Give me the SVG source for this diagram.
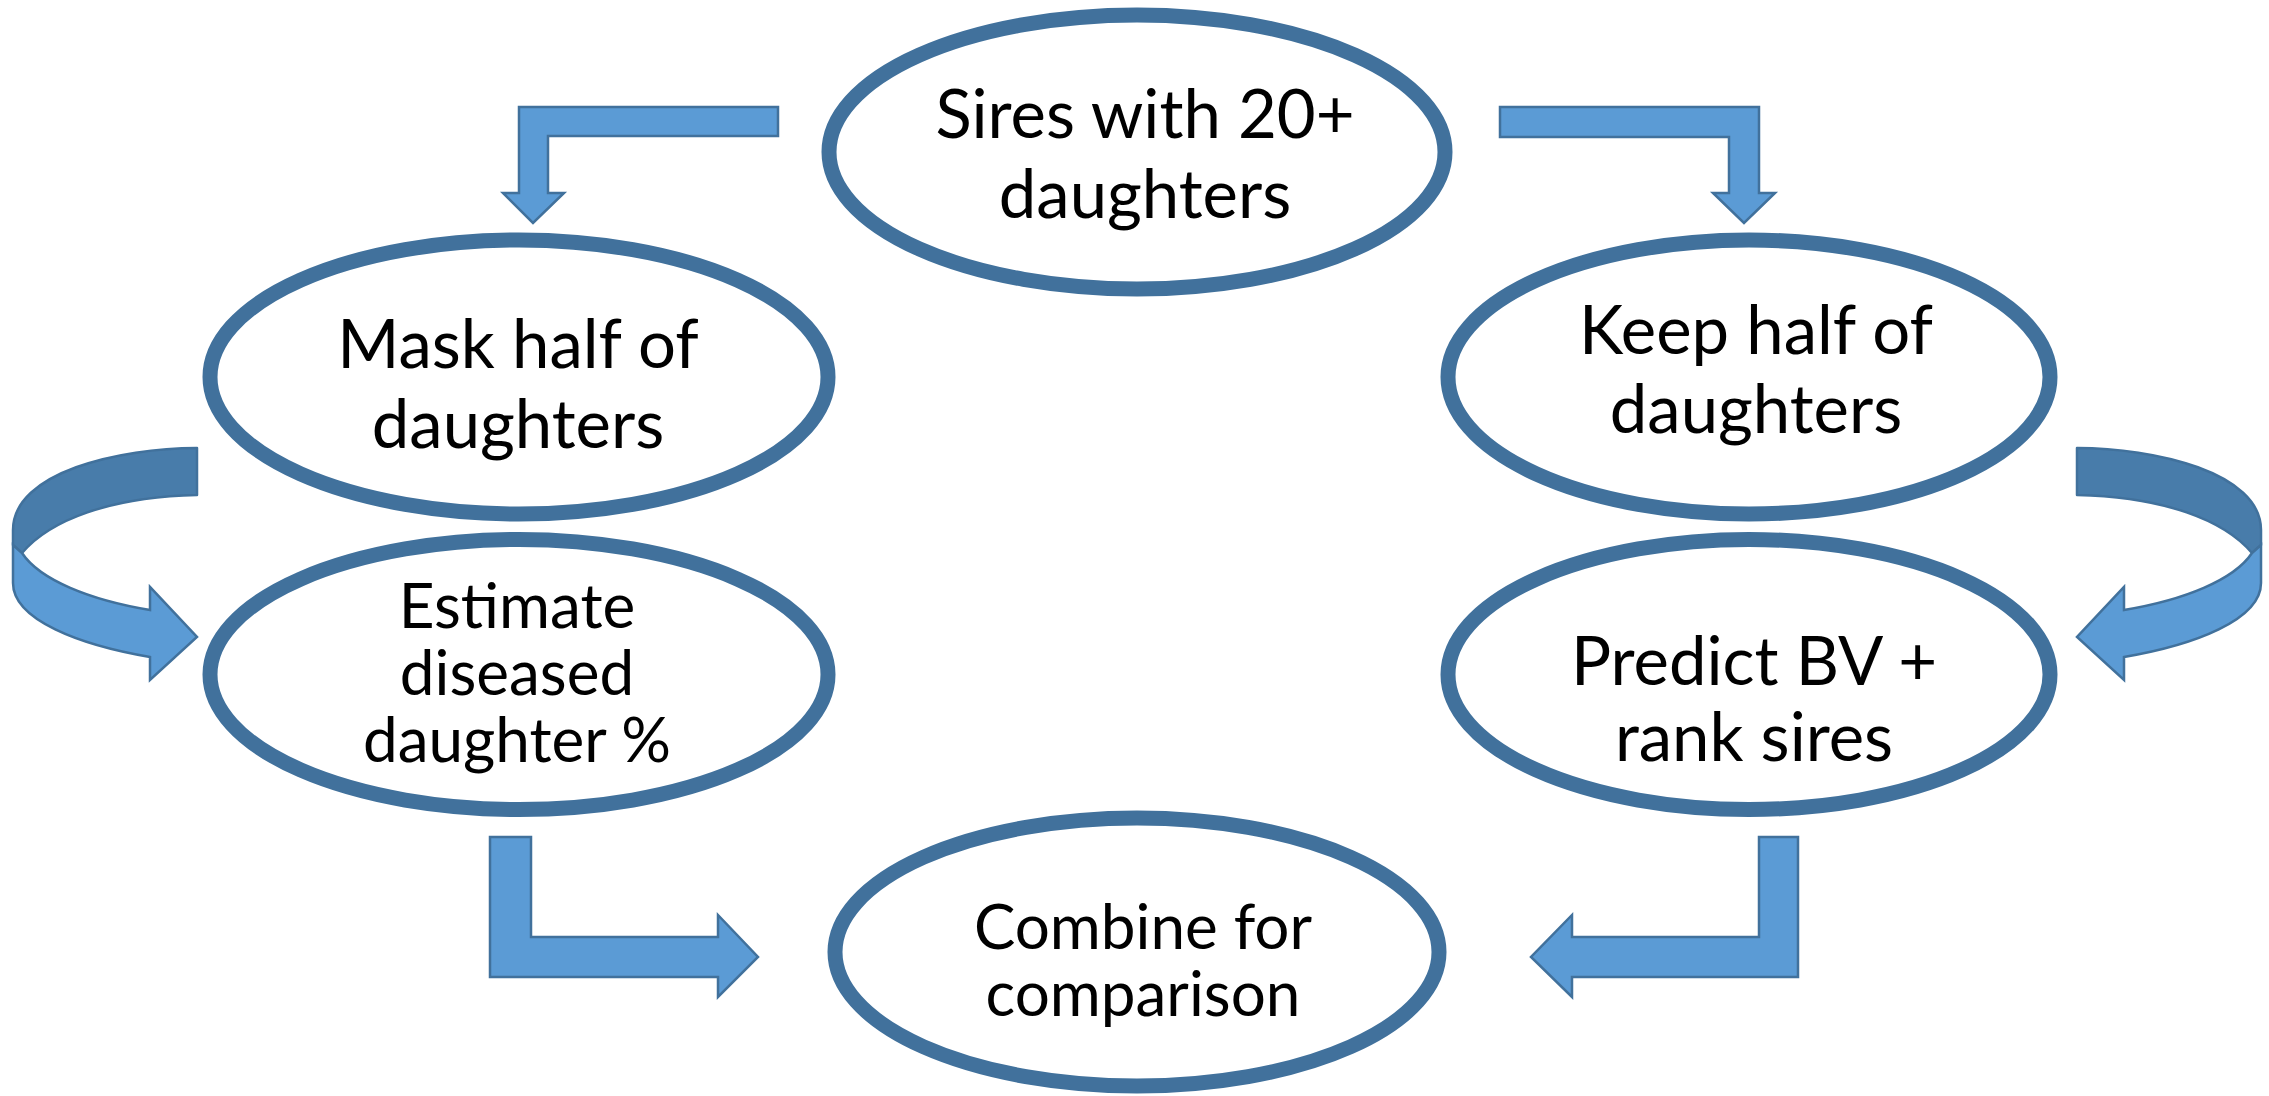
<svg xmlns="http://www.w3.org/2000/svg" width="2269" height="1096" viewBox="0 0 2269 1096">
<style>
.node ellipse{fill:#fff;stroke:#41719C;stroke-width:15}
.node text{font-family:Lato,"Liberation Sans",sans-serif;fill:#000;text-anchor:middle}
.big{font-size:67px}
.small{font-size:62px}
.arrow{fill:#5B9BD5;stroke:#41719C;stroke-width:2.5;stroke-linejoin:miter}
.dark{fill:#487CAA;stroke:#41719C;stroke-width:2.5;stroke-linejoin:round}
.light{fill:#5B9BD5;stroke:#41719C;stroke-width:2.5;stroke-linejoin:miter}
</style>
<defs>
<g id="curl">
<path class="dark" d="M197,448 C120,448 13,472 13,530 L13,545 L22,553 C50,520 110,497 197,495 Z"/>
<path class="light" d="M13,545 L13,583 C13,620 80,645 150,657 L150,680 L197,637 L150,587 L150,610 C90,600 40,580 22,553 Z"/>
</g>
</defs>
<g id="connectors">
<path class="arrow" d="M778,107 L519,107 L519,193 L503,193 L533,223 L564,193 L548,193 L548,136 L778,136 Z"/>
<path class="arrow" d="M1500,107 L1759,107 L1759,193 L1775,193 L1744,223 L1713,193 L1729,193 L1729,137 L1500,137 Z"/>
<path class="arrow" d="M490,837 L531,837 L531,937 L718,937 L718,915 L758,957 L718,997 L718,977 L490,977 Z"/>
<path class="arrow" d="M1798,837 L1759,837 L1759,937 L1572,937 L1572,915 L1531,957 L1572,997 L1572,977 L1798,977 Z"/>
<use href="#curl"/>
<use href="#curl" transform="translate(2274,0) scale(-1,1)"/>
</g>
<g id="node-sires" class="node">
<ellipse cx="1137" cy="152" rx="308" ry="137"/>
<text class="big" x="1145" y="138">Sires with 20+</text>
<text class="big" x="1145" y="218">daughters</text>
</g>
<g id="node-mask" class="node">
<ellipse cx="519" cy="377" rx="309" ry="137"/>
<text class="big" x="518" y="368">Mask half of</text>
<text class="big" x="518" y="448">daughters</text>
</g>
<g id="node-keep" class="node">
<ellipse cx="1749" cy="377" rx="301" ry="137"/>
<text class="big" x="1756" y="354">Keep half of</text>
<text class="big" x="1756" y="433">daughters</text>
</g>
<g id="node-estimate" class="node">
<ellipse cx="519" cy="674.5" rx="309" ry="135"/>
<text class="small" x="517" y="628">Estimate</text>
<text class="small" x="517" y="695">diseased</text>
<text class="small" x="517" y="762">daughter %</text>
</g>
<g id="node-predict" class="node">
<ellipse cx="1749" cy="674.5" rx="301" ry="135"/>
<text class="big" x="1754" y="685">Predict BV +</text>
<text class="big" x="1754" y="761">rank sires</text>
</g>
<g id="node-combine" class="node">
<ellipse cx="1137" cy="952" rx="302" ry="134"/>
<text class="small" x="1143" y="949">Combine for</text>
<text class="small" x="1143" y="1016">comparison</text>
</g>
</svg>
